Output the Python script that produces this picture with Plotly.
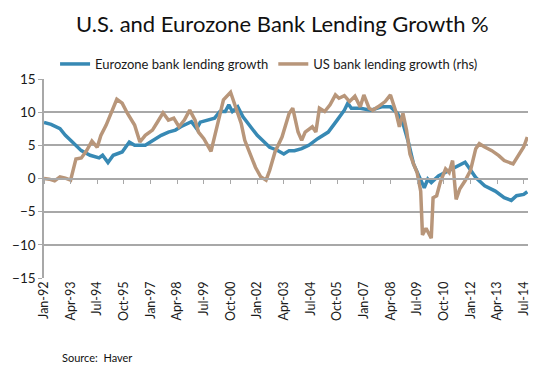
import plotly.graph_objects as go

# ---- data ----
ez_dates = ["1992-01", "1992-05", "1992-10", "1993-01", "1993-05", "1993-10", "1994-03", "1994-08",
            "1994-10", "1995-01", "1995-04", "1995-09", "1996-01", "1996-04", "1996-10", "1997-04",
            "1997-07", "1997-11", "1998-03", "1998-06", "1998-12", "1999-03", "1999-05", "2000-01",
            "2000-04", "2000-07", "2000-09", "2000-11", "2001-02", "2001-05", "2001-09", "2002-01",
            "2002-05", "2002-08", "2002-12", "2003-04", "2003-07", "2003-10", "2004-02", "2004-06",
            "2004-11", "2005-05", "2005-10", "2006-02", "2006-04", "2006-06", "2006-11", "2007-05",
            "2007-11", "2008-04", "2008-08", "2008-11", "2009-02", "2009-05", "2009-08", "2009-11",
            "2010-01", "2010-03", "2010-07", "2011-01", "2011-05", "2011-10", "2011-12", "2012-04",
            "2012-09", "2013-03", "2013-08", "2013-12", "2014-03", "2014-07", "2014-09"]
ez_values = [8.45, 8.15, 7.5, 6.5, 5.5, 4.2, 3.5, 3.1,
             3.5, 2.4, 3.5, 4.0, 5.5, 5.0, 5.0, 6.0,
             6.5, 7.0, 7.3, 7.8, 8.55, 7.5, 8.5, 9.1,
             10.1, 10.1, 11.1, 10.1, 10.8, 9.3, 7.8, 6.5,
             5.5, 4.7, 4.3, 3.7, 4.2, 4.2, 4.5, 5.0,
             6.0, 7.0, 8.8, 10.3, 11.35, 10.6, 10.6, 10.3,
             10.8, 10.8, 9.8, 8.3, 5.5, 2.2, 0.4, -1.4,
             -0.1, -0.6, 0.4, 1.2, 1.7, 2.45, 1.7, 0.15,
             -1.1, -1.9, -2.9, -3.3, -2.6, -2.4, -2.0]

us_dates = ["1992-01", "1992-04", "1992-07", "1992-10", "1993-01", "1993-04", "1993-07", "1993-10",
            "1994-01", "1994-04", "1994-07", "1994-09", "1994-12", "1995-04", "1995-06", "1995-09",
            "1995-12", "1996-04", "1996-07", "1996-10", "1997-02", "1997-05", "1997-08", "1997-11",
            "1998-02", "1998-05", "1998-08", "1998-11", "1999-02", "1999-04", "1999-07", "1999-11",
            "2000-01", "2000-04", "2000-06", "2000-10", "2000-12", "2001-04", "2001-06", "2001-09",
            "2001-12", "2002-03", "2002-06", "2002-08", "2002-11", "2003-03", "2003-07", "2003-09",
            "2003-12", "2004-02", "2004-04", "2004-08", "2004-10", "2004-12", "2005-03", "2005-06",
            "2005-09", "2005-11", "2006-02", "2006-05", "2006-08", "2006-11", "2007-01", "2007-04",
            "2007-06", "2007-09", "2008-01", "2008-04", "2008-07", "2008-09", "2008-11", "2009-01",
            "2009-03", "2009-05", "2009-07", "2009-09", "2009-10", "2009-12", "2010-03", "2010-04",
            "2010-06", "2010-08", "2010-11", "2011-01", "2011-03", "2011-05", "2011-07", "2011-10",
            "2012-01", "2012-04", "2012-06", "2012-09", "2013-01", "2013-05", "2013-08", "2014-01",
            "2014-04", "2014-07", "2014-09"]
us_values = [0.0, -0.1, -0.35, 0.25, 0.05, -0.25, 2.95, 3.1,
             4.2, 5.65, 4.7, 6.5, 8.05, 10.6, 11.95, 11.35,
             9.8, 8.05, 5.5, 6.5, 7.3, 8.55, 9.9, 8.8,
             9.1, 7.8, 8.8, 10.3, 8.8, 7.0, 6.0, 4.1,
             6.25, 9.8, 11.85, 13.0, 11.35, 8.3, 5.75, 3.7,
             1.7, 0.25, -0.25, 1.2, 4.0, 6.25, 9.8, 10.6,
             7.0, 5.75, 7.0, 7.8, 7.0, 10.6, 10.1, 11.1,
             12.6, 12.1, 12.5, 11.6, 12.4, 10.8, 12.6, 10.6,
             10.3, 10.8, 11.6, 12.6, 10.1, 7.8, 9.8, 7.3,
             3.7, 2.2, 0.9, -1.9, -8.5, -7.5, -9.0, -2.9,
             -2.6, -0.6, 1.45, 0.9, 2.7, -3.15, -1.6, -0.35,
             1.2, 4.5, 5.25, 4.75, 4.2, 3.45, 2.7, 2.2,
             3.45, 4.75, 6.25]

tick_dates = ["1992-01-01", "1993-04-01", "1994-07-01", "1995-10-01", "1997-01-01", "1998-04-01",
              "1999-07-01", "2000-10-01", "2002-01-01", "2003-04-01", "2004-07-01", "2005-10-01",
              "2007-01-01", "2008-04-01", "2009-07-01", "2010-10-01", "2012-01-01", "2013-04-01",
              "2014-07-01"]
tick_labels = ["Jan-92", "Apr-93", "Jul-94", "Oct-95", "Jan-97", "Apr-98", "Jul-99", "Oct-00",
               "Jan-02", "Apr-03", "Jul-04", "Oct-05", "Jan-07", "Apr-08", "Jul-09", "Oct-10",
               "Jan-12", "Apr-13", "Jul-14"]
y_ticks = [-15, -10, -5, 0, 5, 10, 15]
y_grid = [-15, -10, -5, 0, 5, 10]

BLUE = "#3789b4"
TAN = "#b8967a"
GRID = "#a8a8a8"
FONT = "Lato"
x_range = ["1992-01-01", "2014-09-13"]

fig = go.Figure()
fig.add_trace(go.Scatter(x=ez_dates, y=ez_values, mode="lines", name="Eurozone bank lending growth",
                         line=dict(color=BLUE, width=3.5)))
fig.add_trace(go.Scatter(x=us_dates, y=us_values, mode="lines", name="US bank lending growth (rhs)",
                         line=dict(color=TAN, width=3.5)))
# helper trace so the zero-line tick axis is drawn
fig.add_trace(go.Scatter(x=[], y=[], xaxis="x2", yaxis="y2", showlegend=False, hoverinfo="skip"))

fig.update_layout(
    width=543, height=368,
    margin=dict(l=41, r=13, t=79, b=90),
    paper_bgcolor="white", plot_bgcolor="white",
    font=dict(family=FONT, color="#1a1a1a"),
    title=dict(text="U.S. and Eurozone Bank Lending Growth %", x=0.52, xanchor="center",
               y=0.935, yanchor="middle", font=dict(size=22, color="#111111", family=FONT)),
    showlegend=True,
    legend=dict(orientation="h", x=0.465, xanchor="center", y=1.0, yanchor="bottom",
                font=dict(size=13, family=FONT), itemwidth=30, bgcolor="rgba(0,0,0,0)",
                tracegroupgap=0),
    xaxis=dict(type="date", range=x_range, tickvals=tick_dates, ticktext=tick_labels,
               tickangle=-90, ticks="", showgrid=False, showline=False, zeroline=False,
               tickfont=dict(size=12.5, family=FONT), anchor="y"),
    xaxis2=dict(type="date", range=x_range, overlaying="x", tickvals=tick_dates,
                showticklabels=False, ticks="outside", ticklen=5, tickcolor=GRID, tickwidth=1.2,
                showline=True, linecolor=GRID, linewidth=1.5, showgrid=False, zeroline=False,
                anchor="free", position=0.5),
    yaxis=dict(range=[-15, 15], tickvals=y_ticks, showgrid=False, zeroline=False,
               showline=True, linecolor=GRID, linewidth=1.5, ticks="outside", ticklen=4,
               tickcolor=GRID, tickfont=dict(size=13.5, family=FONT)),
    yaxis2=dict(range=[-15, 15], overlaying="y", tickvals=y_grid, showticklabels=False,
                showgrid=True, gridcolor=GRID, gridwidth=1.5, zeroline=False, showline=False,
                ticks="", anchor="x"),
)
fig.add_annotation(text="Source:  Haver", xref="paper", yref="paper", x=0.033, y=-0.40,
                   xanchor="left", yanchor="middle", showarrow=False,
                   font=dict(size=11, family=FONT, color="#111111"))

fig.write_html("out.html", config={"displayModeBar": False},
               post_script="document.body.style.margin='0';")
